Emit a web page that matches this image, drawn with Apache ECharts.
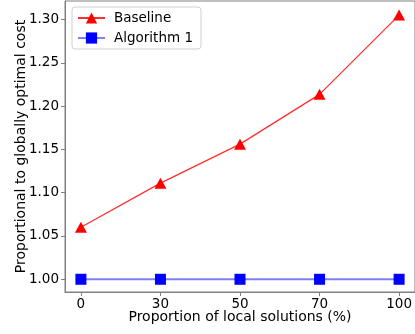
<!DOCTYPE html>
<html>
<head>
<meta charset="utf-8">
<script src="https://cdn.jsdelivr.net/npm/echarts@6/dist/echarts.min.js"></script>
<style>
  html, body { margin: 0; padding: 0; background: #fff; }
  #chart { width: 415px; height: 334px; }
</style>
</head>
<body>
<div id="chart"></div>
<script>
// Proportion of local solutions (%) on the x axis
const categories = ['0', '30', '50', '70', '100'];
// Cost relative to the global optimum
const baseline = [1.06, 1.111, 1.156, 1.2135, 1.305];
const algorithm1 = [1.0, 1.0, 1.0, 1.0, 1.0];
const yTicks = [1.00, 1.05, 1.10, 1.15, 1.20, 1.25, 1.30];

const FONT = 'DejaVu Sans';
const SPINE = '#808080';

const chart = echarts.init(document.getElementById('chart'), null, { renderer: 'canvas' });

const toPairs = arr => arr.map((v, i) => [i, v]);

chart.setOption({
  animation: false,
  backgroundColor: '#fff',
  textStyle: { fontFamily: FONT, color: '#000' },
  grid: {
    left: 65, top: 1, width: 353, height: 291,
    show: true, borderColor: SPINE, borderWidth: 1, backgroundColor: 'transparent'
  },
  legend: {
    left: 72, top: 7,
    orient: 'vertical',
    itemWidth: 27, itemHeight: 14, itemGap: 6,
    padding: [4, 8, 4, 5],
    borderColor: '#d0d0d0', borderWidth: 1, borderRadius: 3,
    backgroundColor: 'rgba(255,255,255,0.8)',
    textStyle: { fontFamily: FONT, fontSize: 13.5, color: '#000', padding: [0, 0, 0, 4] },
    data: ['Baseline', 'Algorithm 1']
  },
  xAxis: {
    type: 'value', min: -0.2, max: 4.2,
    name: 'Proportion of local solutions (%)',
    nameLocation: 'middle', nameGap: 18, nameMoveOverlap: false,
    nameTextStyle: { fontFamily: FONT, fontSize: 14, color: '#000', verticalAlign: 'top' },
    axisLine: { show: true, onZero: false, lineStyle: { color: SPINE, width: 1 } },
    axisTick: { show: true, length: 4, lineStyle: { color: SPINE }, customValues: [0, 1, 2, 3, 4] },
    axisLabel: {
      fontFamily: FONT, fontSize: 13.5, color: '#000', margin: 5,
      customValues: [0, 1, 2, 3, 4],
      formatter: v => categories[Math.round(v)]
    },
    splitLine: { show: false }
  },
  yAxis: {
    type: 'value', min: 0.9853, max: 1.3213,
    name: 'Proportional to globally optimal cost',
    nameLocation: 'middle', nameGap: 37, nameMoveOverlap: false,
    nameTextStyle: { fontFamily: FONT, fontSize: 14, color: '#000' },
    axisLine: { show: true, onZero: false, lineStyle: { color: SPINE, width: 1 } },
    axisTick: { show: true, length: 4, lineStyle: { color: SPINE }, customValues: yTicks },
    axisLabel: {
      fontFamily: FONT, fontSize: 13.5, color: '#000', margin: 6,
      customValues: yTicks,
      formatter: v => v.toFixed(2)
    },
    splitLine: { show: false }
  },
  series: [
    {
      name: 'Baseline', type: 'line',
      data: toPairs(baseline),
      symbol: 'triangle', symbolSize: [12, 11],
      itemStyle: { color: '#ff0000' },
      lineStyle: { color: '#ff3030', width: 1.3 },
      z: 3
    },
    {
      name: 'Algorithm 1', type: 'line',
      data: toPairs(algorithm1),
      symbol: 'rect', symbolSize: 11,
      itemStyle: { color: '#0000ff' },
      lineStyle: { color: '#8080ff', width: 2 },
      z: 2
    }
  ]
});
</script>
</body>
</html>
